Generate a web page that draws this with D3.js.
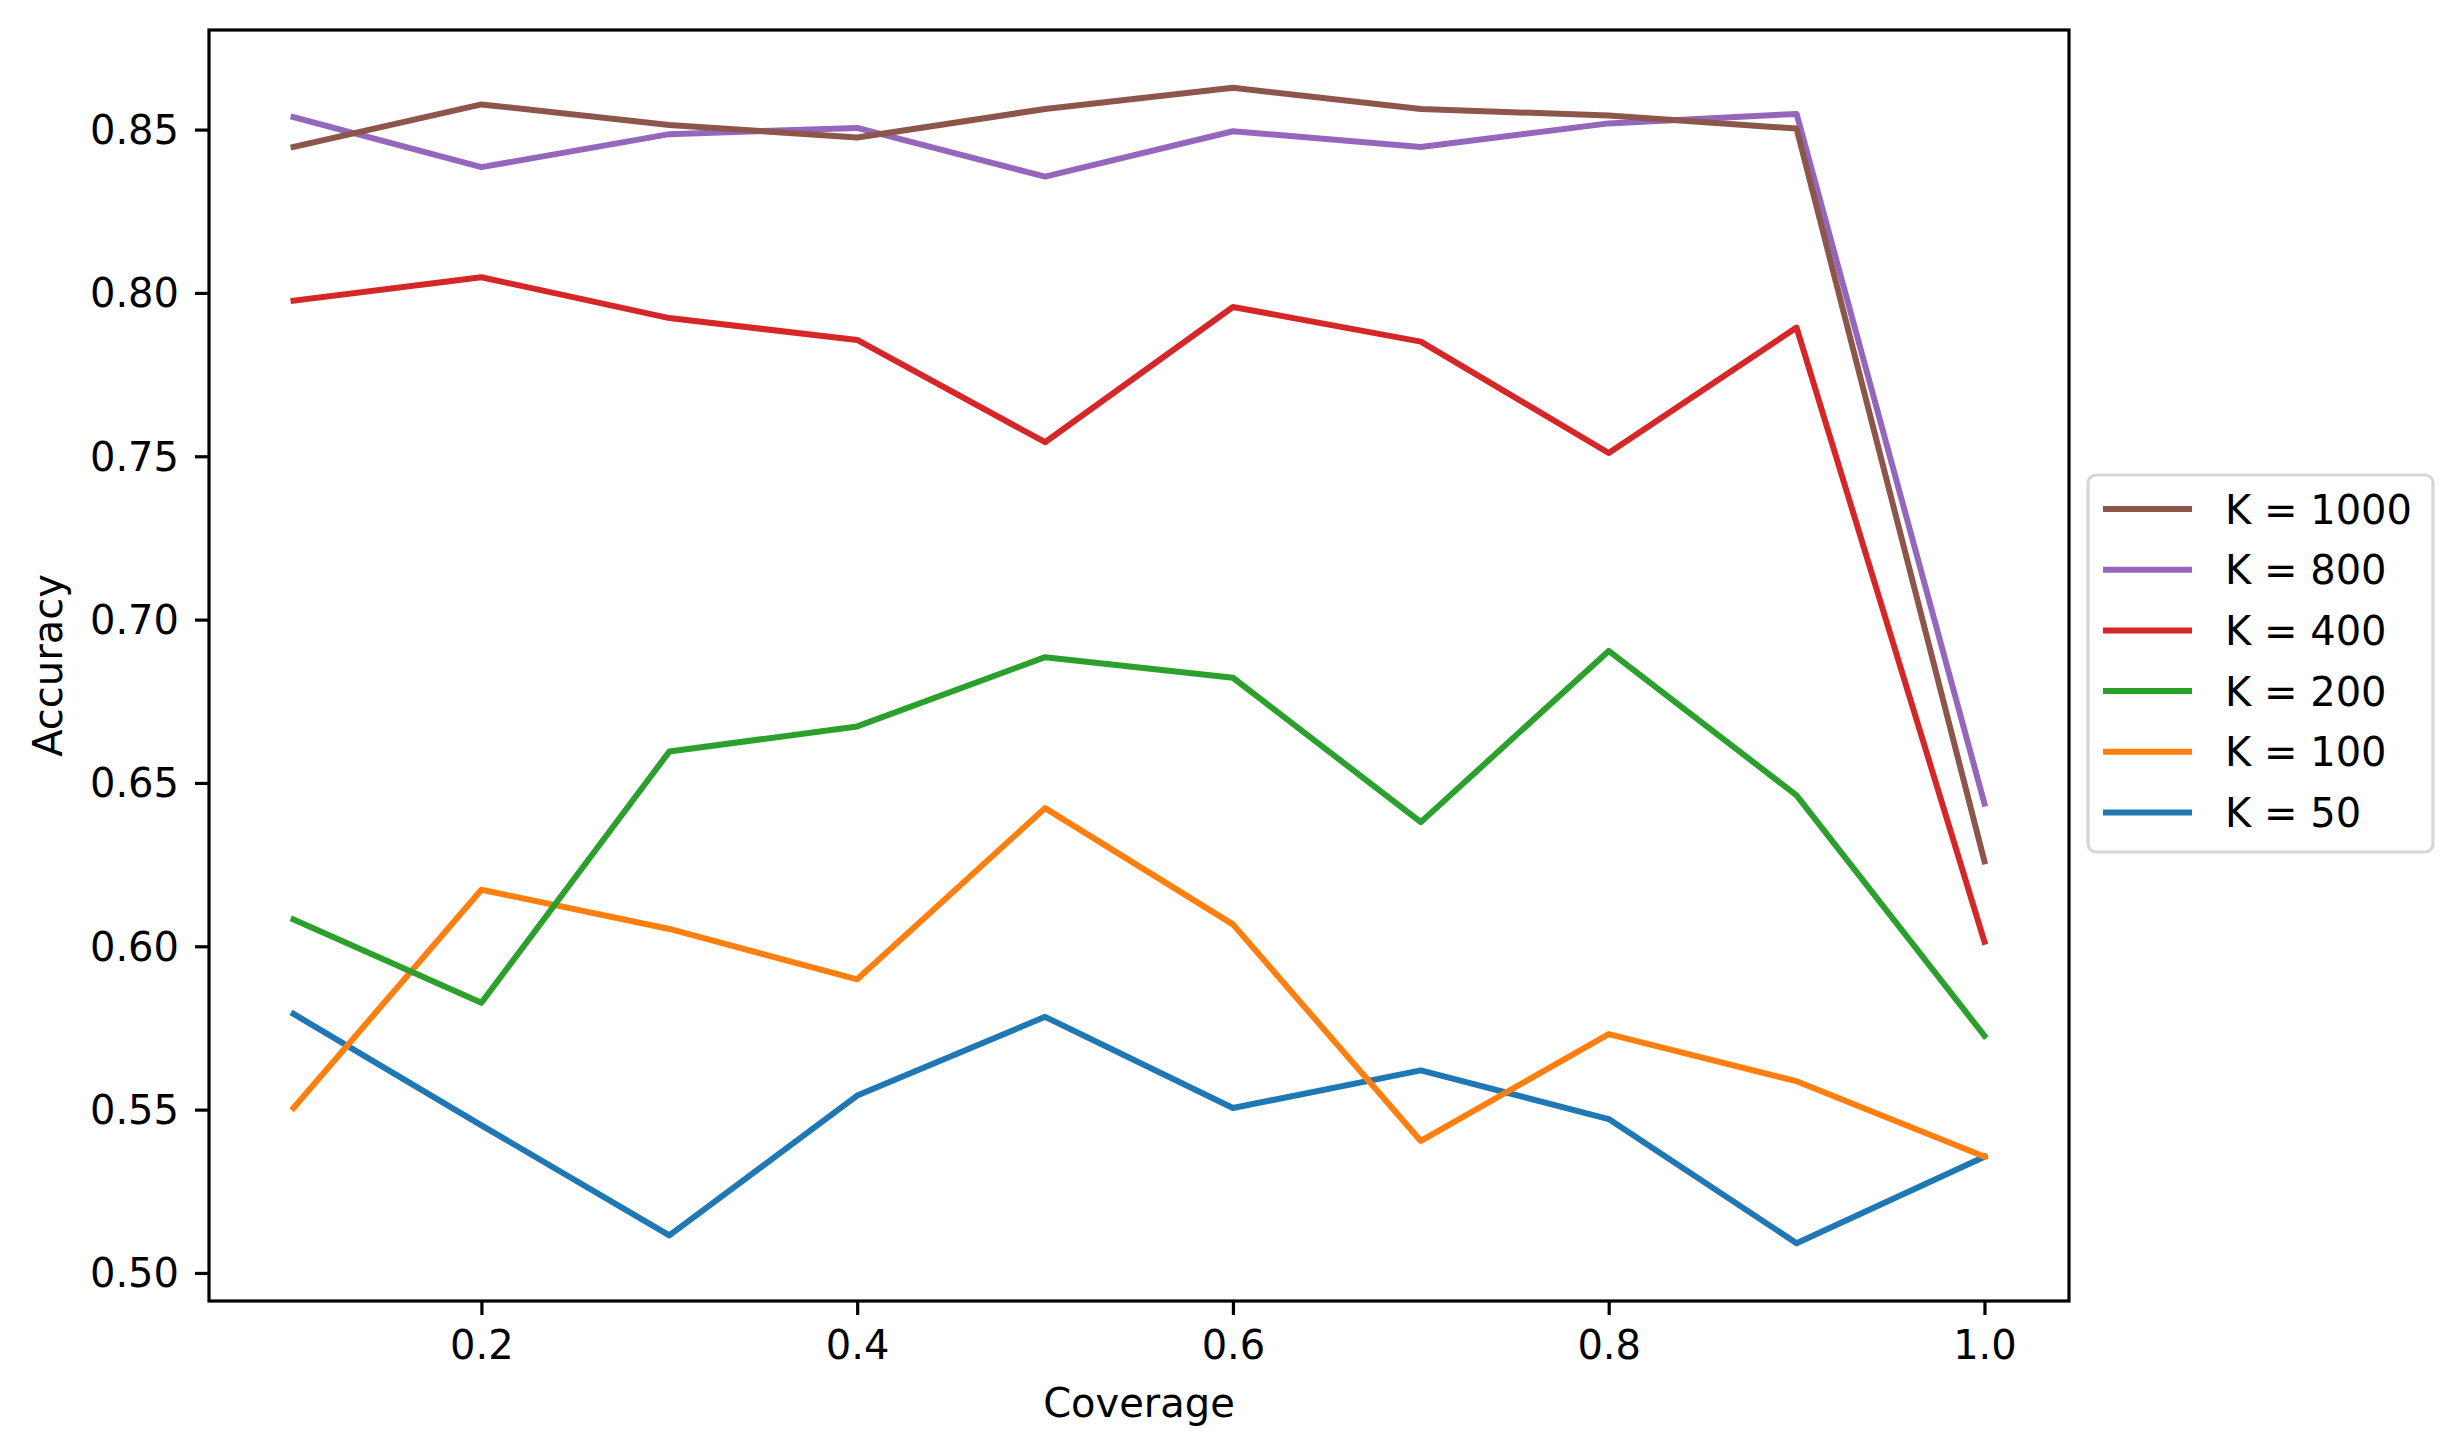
<!DOCTYPE html>
<html>
<head>
<meta charset="utf-8">
<script src="https://cdn.jsdelivr.net/npm/d3@7"></script>
<style>
html,body{margin:0;padding:0;background:#fff;}
svg{display:block;font-family:"DejaVu Sans",sans-serif;}
</style>
</head>
<body>
<svg id="chart" width="2464" height="1456"></svg>
<script>
const coverage = [0.1,0.2,0.3,0.4,0.5,0.6,0.7,0.8,0.9,1.0];
const k1000 = [0.8447,0.8577,0.8514,0.8476,0.8563,0.8628,0.8563,0.8543,0.8503,0.6260];
const k800  = [0.8538,0.8385,0.8486,0.8505,0.8356,0.8495,0.8447,0.8519,0.8548,0.6437];
const k400  = [0.7976,0.8048,0.7923,0.7856,0.7543,0.7957,0.7851,0.7510,0.7894,0.6014];
const k200  = [0.6082,0.5827,0.6596,0.6673,0.6885,0.6822,0.6380,0.6904,0.6462,0.5726];
const k100  = [0.5505,0.6173,0.6053,0.5899,0.6423,0.6067,0.5404,0.5731,0.5587,0.5356];
const k50   = [0.5793,0.5452,0.5115,0.5543,0.5784,0.5505,0.5620,0.5471,0.5091,0.5356];
const seriesNames = ["K = 1000","K = 800","K = 400","K = 200","K = 100","K = 50"];
const seriesValues = [k1000,k800,k400,k200,k100,k50];
const seriesColors = ["#8c564b","#9467bd","#d62728","#2ca02c","#ff7f0e","#1f77b4"];
const xTicks = [0.2,0.4,0.6,0.8,1.0];
const yTicks = [0.50,0.55,0.60,0.65,0.70,0.75,0.80,0.85];

const svg = d3.select("#chart");
const L=209, R=2069, T=30, B=1301;
const fs = 40;
const lw = 6, sw = 3.2, tick = 14;

const allVals = seriesValues.flat();
const ymin = d3.min(allVals), ymax = d3.max(allVals);
const ypad = (ymax-ymin)*0.05;
const x = d3.scaleLinear().domain([0.055,1.045]).range([L,R]);
const y = d3.scaleLinear().domain([ymin-ypad, ymax+ypad]).range([B,T]);

// lines
const line = d3.line().x((d,i)=>x(coverage[i])).y(d=>y(d));
const plot = svg.append("g");
for (let s = seriesValues.length-1; s>=0; s--) {
  plot.append("path").datum(seriesValues[s])
    .attr("d", line).attr("fill","none")
    .attr("stroke", seriesColors[s]).attr("stroke-width",lw)
    .attr("stroke-linecap","square").attr("stroke-linejoin","round");
}

// axes
const xAxis = d3.axisBottom(x).tickValues(xTicks).tickFormat(d3.format(".1f")).tickSizeInner(tick).tickSizeOuter(0).tickPadding(14);
const yAxis = d3.axisLeft(y).tickValues(yTicks).tickFormat(d3.format(".2f")).tickSizeInner(tick).tickSizeOuter(0).tickPadding(16);
const gx = svg.append("g").attr("transform",`translate(0,${B})`).call(xAxis);
const gy = svg.append("g").attr("transform",`translate(${L},0)`).call(yAxis);
[gx,gy].forEach(g=>{
  g.select(".domain").remove();
  g.selectAll(".tick line").attr("stroke","#000").attr("stroke-width",sw);
  g.selectAll(".tick text").attr("fill","#000").style("font-size",fs+"px").style("font-family","DejaVu Sans");
});
gy.selectAll(".tick text").attr("dy","0.35em");
gx.selectAll(".tick text").attr("dy","0.74em");

// spines
svg.append("rect").attr("x",L).attr("y",T).attr("width",R-L).attr("height",B-T)
  .attr("fill","none").attr("stroke","#000").attr("stroke-width",sw);

// axis labels
svg.append("text").attr("x",(L+R)/2).attr("y",1417).attr("text-anchor","middle")
  .style("font-size",fs+"px").text("Coverage");
svg.append("text").attr("transform",`translate(62,${(T+B)/2}) rotate(-90)`)
  .attr("text-anchor","middle")
  .style("font-size",fs+"px").text("Accuracy");

// legend
const lg = svg.append("g");
lg.append("rect").attr("x",2088).attr("y",475).attr("width",345).attr("height",377)
  .attr("rx",8).attr("fill","#fff").attr("stroke","#d6d6d6").attr("stroke-width",3.2);
seriesNames.forEach((n,i)=>{
  const yy = 509 + i*60.7;
  lg.append("line").attr("x1",2106).attr("x2",2189).attr("y1",yy).attr("y2",yy)
    .attr("stroke",seriesColors[i]).attr("stroke-width",lw).attr("stroke-linecap","square");
  lg.append("text").attr("x",2225).attr("y",yy+14.6)
    .style("font-size",fs+"px").text(n);
});
</script>
</body>
</html>
